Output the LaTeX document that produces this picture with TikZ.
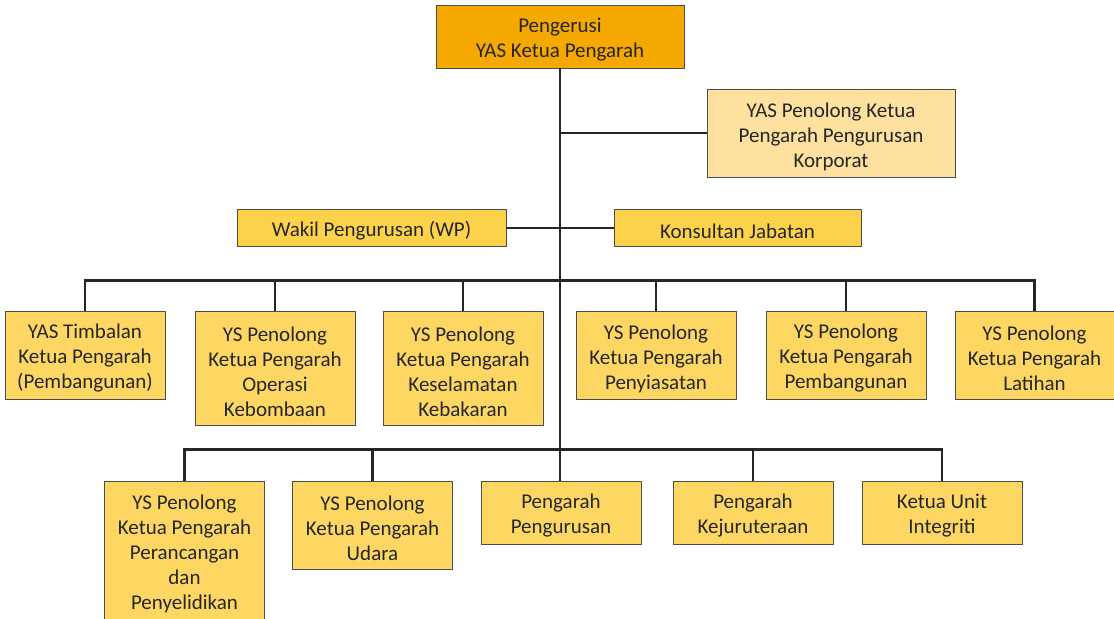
\documentclass[tikz,border=0pt]{standalone}
\usepackage{fontspec}
\setmainfont{Carlito}
\usetikzlibrary{calc}
\newcommand{\lift}{\rule{0pt}{21.5bp}}	%=text 3bp lower in its box
\begin{document}
\begin{tikzpicture}[x=1bp,y=-1bp]

		\definecolor{jorange}{HTML}{F5A800}
		\definecolor{jlight}{HTML}{FEE09F}
		\definecolor{jmid}{HTML}{FDD24B}
		\definecolor{jrow}{HTML}{FED763}
		\definecolor{jline}{HTML}{262626}

		\tikzstyle{unit}=[rectangle,
			fill=jrow,draw=black!70,line width=0.8bp,
			minimum width=160bp,minimum height=88bp,
			font=\fontsize{21bp}{25bp}\selectfont,
			text=black!85,
			align=center,inner sep=0mm]
		\tikzstyle{link}=[draw=jline,line width=2.4bp]

		\useasboundingbox (0,0) rectangle (1114,619);

		\node[unit,fill=jorange,minimum width=248bp,minimum height=63bp]	(pengerusi)	at (560,36.5)	{\lift Pengerusi\\ YAS Ketua Pengarah};
		\node[unit,fill=jlight,minimum width=248bp]	(korporat)	at (831,133)	{\lift YAS Penolong Ketua\\ Pengarah Pengurusan\\ Korporat};
		\node[unit,fill=jmid,minimum width=269bp,minimum height=37bp]	(wakil)	at (371.5,228)	{\lift Wakil Pengurusan (WP)};
		\node[unit,fill=jmid,minimum width=247bp,minimum height=37bp]	(konsultan)	at (737.5,228)	{\lift Konsultan Jabatan};

		% first row
		\node[unit]	(timbalan)	at (85,355)	{\lift YAS Timbalan\\ Ketua Pengarah\\ (Pembangunan)};
		\node[unit,minimum height=114bp]	(operasi)	at (275,368)	{\lift YS Penolong\\ Ketua Pengarah\\ Operasi\\ Kebombaan};
		\node[unit,minimum height=114bp]	(keselamatan)	at (463,368)	{\lift YS Penolong\\ Ketua Pengarah\\ Keselamatan\\ Kebakaran};
		\node[unit]	(penyiasatan)	at (656,355)	{\lift YS Penolong\\ Ketua Pengarah\\ Penyiasatan};
		\node[unit]	(pembangunan)	at (846,355)	{\lift YS Penolong\\ Ketua Pengarah\\ Pembangunan};
		\node[unit,minimum width=159bp]	(latihan)	at (1034.5,355)	{\lift YS Penolong\\ Ketua Pengarah\\ Latihan};

		% second row
		\node[unit,minimum height=138bp]	(perancangan)	at (184.5,550)	{\lift YS Penolong\\ Ketua Pengarah\\ Perancangan\\ dan\\ Penyelidikan};
		\node[unit]	(udara)	at (372.5,525)	{\lift YS Penolong\\ Ketua Pengarah\\ Udara};
		\node[unit,minimum height=63bp]	(pengurusan)	at (561,512.5)	{\lift Pengarah\\ Pengurusan};
		\node[unit,minimum height=63bp]	(kejuruteraan)	at (753,512.5)	{\lift Pengarah\\ Kejuruteraan};
		\node[unit,minimum height=63bp]	(integriti)	at (942,512.5)	{\lift Ketua Unit\\ Integriti};

		\coordinate	(trunk-k)	at (pengerusi.south |- korporat.west);
		\coordinate	(bus1)	at ($(pengerusi.south)+(0,212)$);
		\coordinate	(bus2)	at ($(pengerusi.south)+(0,381)$);

		\draw[link]	(pengerusi.south)	--	(pengerusi.south |- pengurusan.north);
		\draw[link]	(trunk-k)	--	(korporat.west);
		\draw[link]	(wakil.east)	--	(konsultan.west);

		\draw[link]	(bus1)	-|	(timbalan);
		\draw[link]	(bus1)	-|	(operasi);
		\draw[link]	(bus1)	-|	(keselamatan);
		\draw[link]	(bus1)	-|	(penyiasatan);
		\draw[link]	(bus1)	-|	(pembangunan);
		\draw[link]	(bus1)	-|	(latihan);

		\draw[link]	(bus2)	-|	(perancangan);
		\draw[link]	(bus2)	-|	(udara);
		\draw[link]	(bus2)	-|	(kejuruteraan);
		\draw[link]	(bus2)	-|	(integriti);

	\end{tikzpicture}
\end{document}
